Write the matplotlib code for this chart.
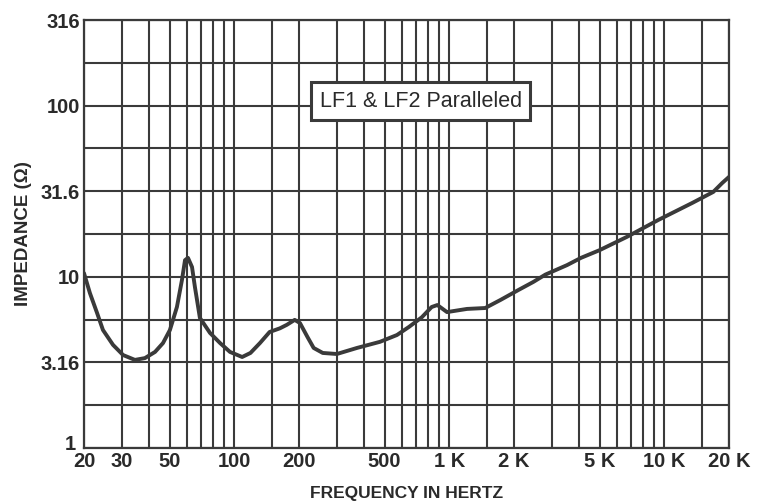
import matplotlib.pyplot as plt
from matplotlib.transforms import ScaledTranslation

# impedance curve (Hz, ohms)
freq = [20, 21.3, 23.0, 24.5, 27.3, 30.4, 34.5, 38.4, 42.8, 46.6, 50.2, 54.1,
        57.1, 59.0, 60.9, 63.6, 65.6, 69.2, 77.1, 85.9, 95.5, 108.8, 118.9,
        131.6, 146, 163, 175.5, 191, 202, 219, 234, 258, 300, 372, 476, 571,
        650, 745, 828, 880, 976, 1209, 1469, 1733, 2100, 2460, 2800, 3530,
        4100, 5000, 6700, 9400, 13500, 16900, 18600, 20000]
impedance = [10.5, 8.04, 6.15, 4.89, 4.0, 3.49, 3.27, 3.35, 3.64, 4.1, 4.89,
             6.66, 9.58, 12.5, 12.9, 11.4, 8.72, 5.75, 4.7, 4.1, 3.64, 3.4,
             3.59, 4.1, 4.76, 5.0, 5.24, 5.6, 5.37, 4.45, 3.84, 3.59, 3.54,
             3.84, 4.17, 4.57, 5.1, 5.8, 6.66, 6.84, 6.22, 6.49, 6.57, 7.33,
             8.38, 9.33, 10.3, 11.7, 12.9, 14.3, 17.1, 21.5, 27, 31.3, 35.3,
             38.3]

# tick labels
x_ticks = [20, 30, 50, 100, 200, 500, 1000, 2000, 5000, 10000, 20000]
x_labels = ['20', '30', '50', '100', '200', '500', '1 K', '2 K', '5 K', '10 K', '20 K']
y_ticks = [1, 3.16, 10, 31.6, 100, 316]
y_labels = ['1', '3.16', '10', '31.6', '100', '316']

# grid lines of the printed chart paper
x_grid = [20, 30, 40, 50, 60, 70, 80, 90, 100, 150, 200, 300, 400, 500, 600, 700,
          800, 900, 1000, 1500, 2000, 3000, 4000, 5000, 6000, 7000, 8000, 9000,
          10000, 15000, 20000]
y_grid = [10 ** (k / 4) for k in range(11)]

ink = '#3a3a3a'
txt = '#2a2a2a'
plt.rcParams['font.family'] = ['Liberation Sans', 'DejaVu Sans']

fig = plt.figure(figsize=(7.61, 5.01), dpi=100)
ax = fig.add_axes([84 / 761, 53 / 501, 645 / 761, 428 / 501])
ax.set_xscale('log')
ax.set_yscale('log')
ax.set_xlim(20, 20000)
ax.set_ylim(1, 316)

for xv in x_grid:
    ax.axvline(xv, color=ink, lw=1.5, zorder=1)
for yv in y_grid:
    ax.axhline(yv, color=ink, lw=1.5, zorder=1)

ax.plot(freq, impedance, color=ink, lw=2.8, solid_capstyle='round',
        solid_joinstyle='round', zorder=3)

ax.set_xticks(x_ticks, x_labels)
ax.set_yticks(y_ticks, y_labels)
ax.minorticks_off()
ax.tick_params(length=0, labelsize=14.5, colors=txt)
ax.tick_params(axis='x', pad=3)
ax.tick_params(axis='y', pad=3)
for lab in ax.get_xticklabels() + ax.get_yticklabels():
    lab.set_fontweight('bold')
# the "1" sits a little above the corner, clear of the "20"
one = ax.get_yticklabels()[0]
one.set_transform(one.get_transform() + ScaledTranslation(-3 / 72, 4 / 72, fig.dpi_scale_trans))

for s in ax.spines.values():
    s.set_color(ink)
    s.set_linewidth(1.6)

ax.set_xlabel('FREQUENCY IN HERTZ', fontsize=12.5, fontweight='bold', color=txt, labelpad=11)
ax.set_ylabel('IMPEDANCE (Ω)', fontsize=13.5, fontweight='bold', color=txt, labelpad=6)

ax.text(0.522, 0.81, 'LF1 & LF2 Paralleled', transform=ax.transAxes,
        ha='center', va='center', fontsize=15.5, color=txt, zorder=5,
        bbox=dict(boxstyle='square,pad=0.4', facecolor='white', edgecolor=ink, linewidth=2.2))

fig.savefig('out.png', dpi=100)
